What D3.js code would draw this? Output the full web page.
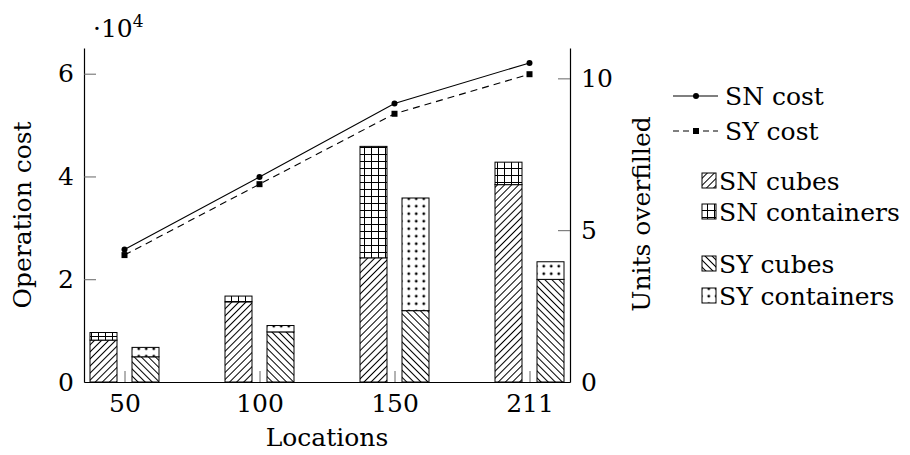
<!DOCTYPE html>
<html>
<head>
<meta charset="utf-8">
<script src="https://cdn.jsdelivr.net/npm/d3@7"></script>
<style>
  html, body { margin: 0; padding: 0; background: #fff; }
</style>
</head>
<body>
<svg id="chart" width="910" height="455"></svg>
<script>
const locations = ['50', '100', '150', '211'];

// operation cost (left axis)
const snCost = [25800, 39900, 54200, 62100];
const syCost = [24700, 38500, 52200, 59900];

// units overfilled (right axis), stacked cubes + containers
const snCubes = [1.38, 2.64, 4.09, 6.50];
const snContainers = [0.25, 0.19, 3.67, 0.74];
const syCubes = [0.83, 1.65, 2.35, 3.38];
const syContainers = [0.31, 0.21, 3.71, 0.58];

const leftTicks = [0, 20000, 40000, 60000];
const rightTicks = [0, 5, 10];

const FONT = 25;
const FAMILY = "'DejaVu Serif', serif";
const plot = { left: 84, right: 570, top: 48, bottom: 382 };

const svg = d3.select('#chart')
  .attr('font-family', FAMILY);

const x = d3.scalePoint()
  .domain(locations)
  .range([plot.left, plot.right])
  .padding(0.3);

const yCost = d3.scaleLinear().domain([0, 65000]).range([plot.bottom, plot.top]);
const yUnits = d3.scaleLinear().domain([0, 11]).range([plot.bottom, plot.top]);

// fill patterns
const defs = svg.append('defs');

function addLines(id, angle) {
  const p = defs.append('pattern')
    .attr('id', id)
    .attr('patternUnits', 'userSpaceOnUse')
    .attr('width', 5)
    .attr('height', 5)
    .attr('patternTransform', `rotate(${angle})`);
  p.append('rect').attr('width', 5).attr('height', 5).attr('fill', '#fff');
  p.append('line')
    .attr('x1', 2.5).attr('y1', 0).attr('x2', 2.5).attr('y2', 5)
    .attr('stroke', '#000').attr('stroke-width', 1);
}
addLines('neLines', 45);
addLines('nwLines', -45);

const grid = defs.append('pattern')
  .attr('id', 'grid')
  .attr('patternUnits', 'userSpaceOnUse')
  .attr('width', 7)
  .attr('height', 7);
grid.append('rect').attr('width', 7).attr('height', 7).attr('fill', '#fff');
grid.append('path')
  .attr('d', 'M0.5,0V7M0,0.5H7')
  .attr('stroke', '#000').attr('stroke-width', 1);

const dots = defs.append('pattern')
  .attr('id', 'dots')
  .attr('patternUnits', 'userSpaceOnUse')
  .attr('width', 7.5)
  .attr('height', 7.5);
dots.append('rect').attr('width', 7.5).attr('height', 7.5).attr('fill', '#fff');
dots.append('circle').attr('cx', 3.75).attr('cy', 3.75).attr('r', 1.4).attr('fill', '#000');

// bars
const barW = 27;
const barGap = 7.5;

const barSeries = [
  { lower: snCubes, upper: snContainers, offset: -barGap - barW, fills: ['url(#neLines)', 'url(#grid)'] },
  { lower: syCubes, upper: syContainers, offset: barGap, fills: ['url(#nwLines)', 'url(#dots)'] },
];

const barLayer = svg.append('g');
barSeries.forEach((s) => {
  locations.forEach((loc, i) => {
    const x0 = x(loc) + s.offset;
    const base = s.lower[i];
    const top = base + s.upper[i];
    barLayer.append('rect')
      .attr('x', x0).attr('width', barW)
      .attr('y', yUnits(base)).attr('height', yUnits(0) - yUnits(base))
      .attr('fill', s.fills[0]).attr('stroke', '#000').attr('stroke-width', 1);
    barLayer.append('rect')
      .attr('x', x0).attr('width', barW)
      .attr('y', yUnits(top)).attr('height', yUnits(base) - yUnits(top))
      .attr('fill', s.fills[1]).attr('stroke', '#000').attr('stroke-width', 1);
  });
});

// cost lines
const line = d3.line()
  .x((d, i) => x(locations[i]))
  .y((d) => yCost(d));

svg.append('path')
  .datum(snCost)
  .attr('d', line)
  .attr('fill', 'none').attr('stroke', '#000').attr('stroke-width', 1.1);
svg.append('path')
  .datum(syCost)
  .attr('d', line)
  .attr('fill', 'none').attr('stroke', '#000').attr('stroke-width', 1.1)
  .attr('stroke-dasharray', '7,5');

svg.append('g').selectAll('circle')
  .data(snCost)
  .join('circle')
  .attr('cx', (d, i) => x(locations[i]))
  .attr('cy', (d) => yCost(d))
  .attr('r', 3);
svg.append('g').selectAll('rect')
  .data(syCost)
  .join('rect')
  .attr('x', (d, i) => x(locations[i]) - 3)
  .attr('y', (d) => yCost(d) - 3)
  .attr('width', 6)
  .attr('height', 6);

// axes
function styleAxis(g) {
  g.attr('font-family', FAMILY).attr('font-size', FONT);
  g.select('.domain').attr('stroke', '#000').attr('stroke-width', 1.2);
  g.selectAll('.tick line').attr('stroke', '#666').attr('stroke-width', 1);
}

svg.append('g')
  .attr('transform', `translate(${plot.left},0)`)
  .call(d3.axisLeft(yCost).tickValues(leftTicks).tickFormat((d) => d / 1e4)
    .tickSizeInner(-12).tickSizeOuter(0).tickPadding(10))
  .call(styleAxis);

svg.append('g')
  .attr('transform', `translate(${plot.right},0)`)
  .call(d3.axisRight(yUnits).tickValues(rightTicks)
    .tickSizeInner(-12).tickSizeOuter(0).tickPadding(11))
  .call(styleAxis);

svg.append('g')
  .attr('transform', `translate(0,${plot.bottom})`)
  .call(d3.axisBottom(x).tickSizeInner(-11).tickSizeOuter(0).tickPadding(12))
  .call(styleAxis);

// axis titles
svg.append('text')
  .attr('transform', 'translate(31,215) rotate(-90)')
  .attr('text-anchor', 'middle')
  .attr('font-size', FONT)
  .text('Operation cost');

svg.append('text')
  .attr('transform', 'translate(650,214) rotate(-90)')
  .attr('text-anchor', 'middle')
  .attr('font-size', FONT)
  .text('Units overfilled');

svg.append('text')
  .attr('x', (plot.left + plot.right) / 2)
  .attr('y', 446)
  .attr('text-anchor', 'middle')
  .attr('font-size', FONT)
  .text('Locations');

const scaleLabel = svg.append('text')
  .attr('x', 93)
  .attr('y', 37)
  .attr('font-size', FONT);
scaleLabel.append('tspan').text('\u00b710');
scaleLabel.append('tspan').attr('font-size', 17).attr('dy', -10).text('4');

// legend
const lineLegend = [
  { label: 'SN cost', y: 96, dash: null, marker: 'circle' },
  { label: 'SY cost', y: 131, dash: '6,4', marker: 'square' },
];
const legend = svg.append('g');
lineLegend.forEach((d) => {
  legend.append('line')
    .attr('x1', 673).attr('x2', 718).attr('y1', d.y).attr('y2', d.y)
    .attr('stroke', '#000').attr('stroke-width', 1.1)
    .attr('stroke-dasharray', d.dash);
  if (d.marker === 'circle') {
    legend.append('circle').attr('cx', 696).attr('cy', d.y).attr('r', 3);
  } else {
    legend.append('rect').attr('x', 693).attr('y', d.y - 3).attr('width', 6).attr('height', 6);
  }
  legend.append('text')
    .attr('x', 725).attr('y', d.y + 9)
    .attr('font-size', FONT)
    .text(d.label);
});

const boxLegend = [
  { label: 'SN cubes', y: 190, fill: 'url(#neLines)' },
  { label: 'SN containers', y: 221, fill: 'url(#grid)' },
  { label: 'SY cubes', y: 273, fill: 'url(#nwLines)' },
  { label: 'SY containers', y: 305, fill: 'url(#dots)' },
];
boxLegend.forEach((d) => {
  legend.append('rect')
    .attr('x', 702).attr('y', d.y - 17)
    .attr('width', 14).attr('height', 15)
    .attr('fill', d.fill).attr('stroke', '#000').attr('stroke-width', 1);
  legend.append('text')
    .attr('x', 719).attr('y', d.y)
    .attr('font-size', FONT)
    .text(d.label);
});
</script>
</body>
</html>
